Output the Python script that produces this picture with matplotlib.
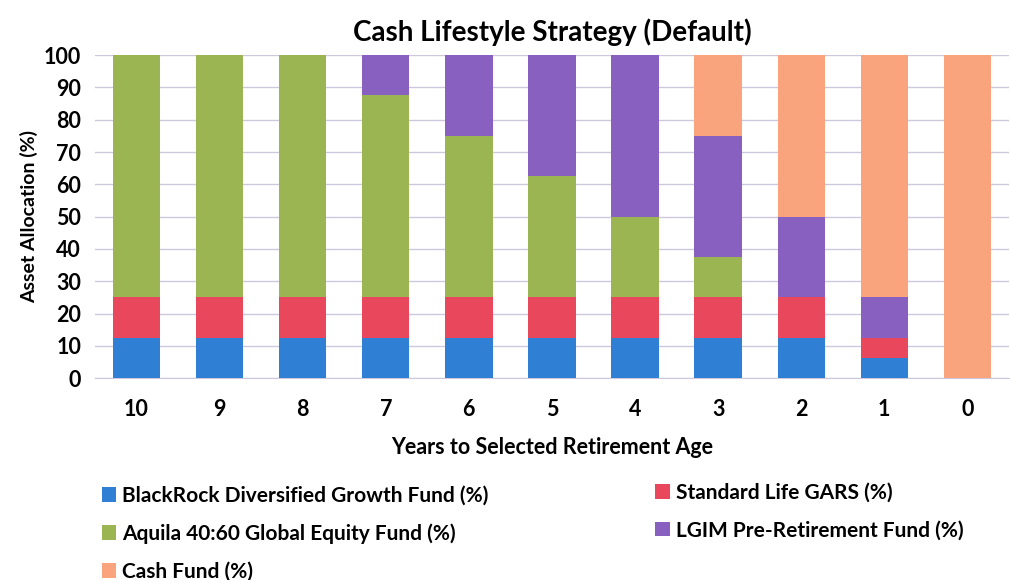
import numpy as np
import matplotlib.pyplot as plt

years = ['10', '9', '8', '7', '6', '5', '4', '3', '2', '1', '0']
blackrock = [12.5, 12.5, 12.5, 12.5, 12.5, 12.5, 12.5, 12.5, 12.5, 6.25, 0]
standard_life = [12.5, 12.5, 12.5, 12.5, 12.5, 12.5, 12.5, 12.5, 12.5, 6.25, 0]
aquila = [75, 75, 75, 62.5, 50, 37.5, 25, 12.5, 0, 0, 0]
lgim = [0, 0, 0, 12.5, 25, 37.5, 50, 37.5, 25, 12.5, 0]
cash = [0, 0, 0, 0, 0, 0, 0, 25, 50, 75, 100]

series = [
    ('BlackRock Diversified Growth Fund (%)', blackrock, '#2f7fd4'),
    ('Standard Life GARS (%)', standard_life, '#e9485c'),
    ('Aquila 40:60 Global Equity Fund (%)', aquila, '#9cb553'),
    ('LGIM Pre-Retirement Fund (%)', lgim, '#8760c0'),
    ('Cash Fund (%)', cash, '#f9a47c'),
]

plt.rcParams['font.family'] = ['Lato', 'DejaVu Sans']

fig = plt.figure(figsize=(10.1, 5.8), dpi=100)
ax = fig.add_axes([0.094, 0.348, 0.905, 0.557])

x = np.arange(len(years))
bottom = np.zeros(len(years))
bars = {}
for name, vals, col in series:
    vals = np.array(vals)
    bars[name] = ax.bar(x, vals, 0.57, bottom=bottom, color=col, label=name, zorder=3)
    bottom += vals

ax.set_ylim(0, 100)
ax.set_xlim(-0.5, len(years) - 0.5)
ax.set_yticks(range(0, 101, 10))
ax.set_xticks(x)
ax.set_xticklabels(years)
ax.tick_params(axis='both', labelsize=15.5, length=0)
ax.tick_params(axis='x', pad=15)
ax.tick_params(axis='y', pad=10)
for lab in ax.get_xticklabels() + ax.get_yticklabels():
    lab.set_fontweight('bold')
ax.yaxis.grid(True, color='#cfc8dc', linewidth=1, zorder=0)
for s in ['top', 'right', 'left']:
    ax.spines[s].set_visible(False)
ax.spines['bottom'].set_color('#cfc8dc')

ax.set_title('Cash Lifestyle Strategy (Default)', fontsize=20, fontweight='bold', pad=10)
ax.set_xlabel('Years to Selected Retirement Age', fontsize=15.5, fontweight='bold', labelpad=12)
ax.set_ylabel('Asset Allocation (%)', fontsize=14, fontweight='bold', labelpad=4)

left_col = ['BlackRock Diversified Growth Fund (%)', 'Aquila 40:60 Global Equity Fund (%)',
            'Cash Fund (%)']
right_col = ['Standard Life GARS (%)', 'LGIM Pre-Retirement Fund (%)']
for names, anchor in [(left_col, (0.082, 0.195)), (right_col, (0.630, 0.200))]:
    leg = fig.legend([bars[n] for n in names], names, loc='upper left',
                     bbox_to_anchor=anchor, frameon=False, fontsize=15,
                     handlelength=0.7, handleheight=0.7, handletextpad=0.3,
                     labelspacing=0.85)
    for t in leg.get_texts():
        t.set_fontweight('bold')

fig.savefig('out.png', dpi=100)
